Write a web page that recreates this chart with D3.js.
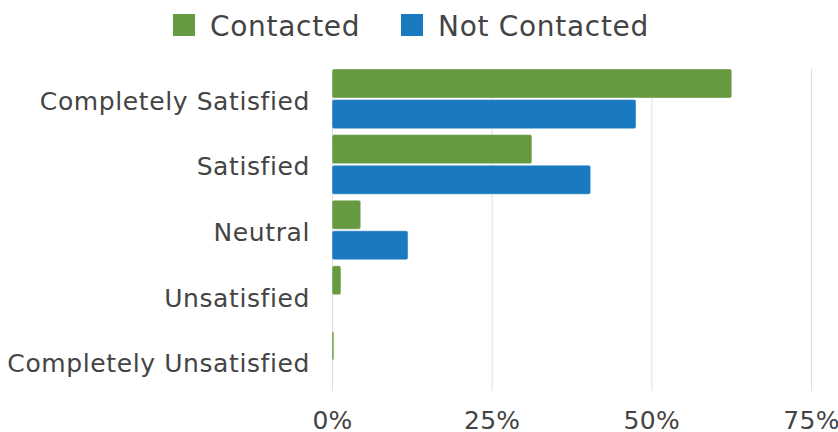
<!DOCTYPE html>
<html>
<head>
<meta charset="utf-8">
<script src="https://cdn.jsdelivr.net/npm/d3@7"></script>
<style>
  html, body { margin: 0; padding: 0; background: #fff; }
  svg text { font-family: "DejaVu Sans", sans-serif; fill: #444; }
</style>
</head>
<body>
<svg id="chart" width="838" height="432"></svg>
<script>
// Satisfaction levels, top to bottom
const categories = ["Completely Satisfied", "Satisfied", "Neutral", "Unsatisfied", "Completely Unsatisfied"];
// Share of respondents in each level
const contacted = [0.626, 0.313, 0.045, 0.014, 0.003];
const notContacted = [0.476, 0.405, 0.119, 0, 0];
const seriesNames = ["Contacted", "Not Contacted"];
const seriesColors = ["#659a41", "#1a7abf"];
const xTicks = [0, 0.25, 0.5, 0.75];

const svg = d3.select("#chart");
const plot = { left: 332, right: 811, top: 69, bottom: 391 };

const x = d3.scaleLinear().domain([0, 0.75]).range([plot.left, plot.right]);
const y = d3.scaleBand().domain(categories).range([plot.top, plot.bottom]).paddingInner(0.09).paddingOuter(0);
const ySub = d3.scaleBand().domain(seriesNames).range([0, y.bandwidth()]).paddingInner(0.05).paddingOuter(0);

const rows = categories.map((c, i) => ({ category: c, values: [contacted[i], notContacted[i]] }));

// Vertical gridlines and percentage labels
const xAxis = d3.axisBottom(x)
  .tickValues(xTicks)
  .tickFormat(d3.format(".0%"))
  .tickSize(-(plot.bottom - plot.top))
  .tickPadding(0);

const gx = svg.append("g")
  .attr("transform", `translate(0,${plot.bottom})`)
  .call(xAxis);
gx.select(".domain").remove();
gx.selectAll(".tick line").attr("stroke", "#dedede").attr("stroke-width", 1);
gx.selectAll(".tick text")
  .attr("y", 38)
  .attr("dy", null)
  .style("font-size", "25px")
  .style("letter-spacing", "0.3px")
  .attr("fill", "#444");

// Category labels
const yAxis = d3.axisLeft(y).tickSize(0).tickPadding(0);
const gy = svg.append("g")
  .attr("transform", `translate(310,0)`)
  .call(yAxis);
gy.select(".domain").remove();
gy.selectAll(".tick text")
  .attr("dy", "11")
  .attr("x", 0)
  .style("font-size", "25px")
  .style("letter-spacing", "0.6px")
  .attr("fill", "#444");

// Grouped bars
const groups = svg.append("g").selectAll("g")
  .data(rows)
  .join("g")
  .attr("transform", d => `translate(0,${y(d.category)})`);

groups.selectAll("rect")
  .data(d => d.values.map((v, k) => ({ series: seriesNames[k], color: seriesColors[k], value: v })))
  .join("rect")
  .filter(d => d.value > 0)
  .attr("x", x(0))
  .attr("y", d => ySub(d.series))
  .attr("width", d => x(d.value) - x(0))
  .attr("height", ySub.bandwidth())
  .attr("rx", 2)
  .attr("fill", d => d.color)
  .attr("stroke", "rgba(255,255,255,0.45)")
  .attr("stroke-width", 1);

// Legend
const legendX = [173, 401];
const legend = svg.append("g").selectAll("g")
  .data(seriesNames)
  .join("g")
  .attr("transform", (d, i) => `translate(${legendX[i]},0)`);
legend.append("rect")
  .attr("x", 0).attr("y", 14)
  .attr("width", 22).attr("height", 22)
  .attr("fill", (d, i) => seriesColors[i]);
legend.append("text")
  .attr("x", 37).attr("y", 36)
  .style("font-size", "28px")
  .style("letter-spacing", "0.7px")
  .text(d => d);
</script>
</body>
</html>
